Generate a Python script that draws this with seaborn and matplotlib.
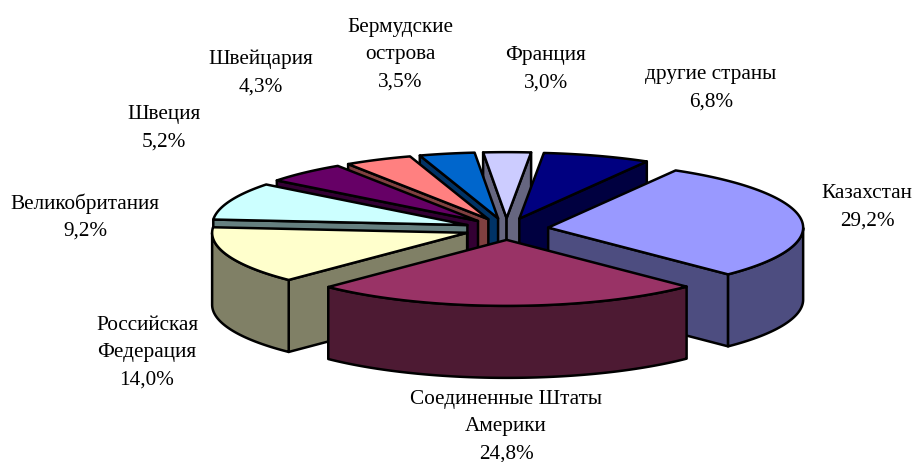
import numpy as np
import seaborn as sns
import matplotlib
matplotlib.use("Agg")
import matplotlib.pyplot as plt
from matplotlib.colors import to_rgb
from matplotlib.patches import Polygon

names = ["Казахстан", "Соединенные Штаты\nАмерики", "Российская\nФедерация", "Великобритания",
         "Швеция", "Швейцария", "Бермудские\nострова", "Франция", "другие страны"]
shares = [29.2, 24.8, 14.0, 9.2, 5.2, 4.3, 3.5, 3.0, 6.8]
colors = ["#9999FF", "#993366", "#FFFFCC", "#CCFFFF", "#660066", "#FF8080", "#0066CC", "#CCCCFF", "#000080"]
label_pos = [(867, 207), (506, 427), (147, 353), (85, 217), (164, 128), (261, 73), (400, 55), (546, 69), (711, 88)]

# pie geometry in pixels
cx, cy = 506.5, 229
rx, ry = 255, 66
depth = 72
explode = 42
start = 60.0
edge = "black"
lw = 1.8


def point(angle, ox, oy):
    a = np.radians(angle)
    return ox + rx * np.cos(a), oy - ry * np.sin(a)


def wall(ax, pts, color, z):
    pts = np.array(pts)
    low = pts[::-1] + [0, depth]
    ax.add_patch(Polygon(np.vstack([pts, low]), closed=True, facecolor=color, edgecolor=edge,
                         linewidth=lw, joinstyle="round", zorder=z))


def draw_slice(ax, a0, a1, color, z):
    # a0 > a1, slice runs clockwise from a0 to a1
    mid = np.radians((a0 + a1) / 2)
    ox = cx + explode * np.cos(mid)
    oy = cy - explode * ry / rx * np.sin(mid)
    side = tuple(np.array(to_rgb(color)) * 0.5)

    p0 = point(a0, ox, oy)
    p1 = point(a1, ox, oy)
    # radial walls, only the ones that face the viewer
    if np.cos(np.radians(a0)) < 0:
        wall(ax, [(ox, oy), p0], side, z)
    if np.cos(np.radians(a1)) > 0:
        wall(ax, [(ox, oy), p1], side, z)

    # curved outer wall, front part only
    angles = np.linspace(a0, a1, 200)
    front = angles[np.sin(np.radians(angles)) <= 0]
    if len(front) > 1:
        wall(ax, [point(a, ox, oy) for a in front], side, z + 0.1)

    arc = [point(a, ox, oy) for a in angles]
    ax.add_patch(Polygon([(ox, oy)] + arc, closed=True, facecolor=color, edgecolor=edge,
                         linewidth=lw, joinstyle="round", zorder=z + 0.2))


def main():
    sns.set_theme(style="white")
    plt.rcParams["font.family"] = ["Liberation Serif", "DejaVu Serif"]

    fig = plt.figure(figsize=(9.13, 4.62), dpi=100)
    ax = fig.add_axes([0, 0, 1, 1])
    ax.set_xlim(0, 913)
    ax.set_ylim(462, 0)
    ax.axis("off")

    sweep = np.array(shares) / sum(shares) * 360
    ends = start - np.cumsum(sweep)
    begins = ends + sweep
    mids = (begins + ends) / 2

    # back slices first
    order = np.argsort(-np.sin(np.radians(mids)))
    for rank, i in enumerate(order):
        draw_slice(ax, begins[i], ends[i], colors[i], rank + 1)

    for name, val, (x, y) in zip(names, shares, label_pos):
        txt = f"{name}\n{val:.1f}%".replace(".", ",")
        ax.text(x, y, txt, ha="center", va="center", multialignment="center", fontsize=15.3,
                linespacing=1.58, color="black", zorder=50)

    fig.savefig("out.png", dpi=100)


if __name__ == "__main__":
    main()
